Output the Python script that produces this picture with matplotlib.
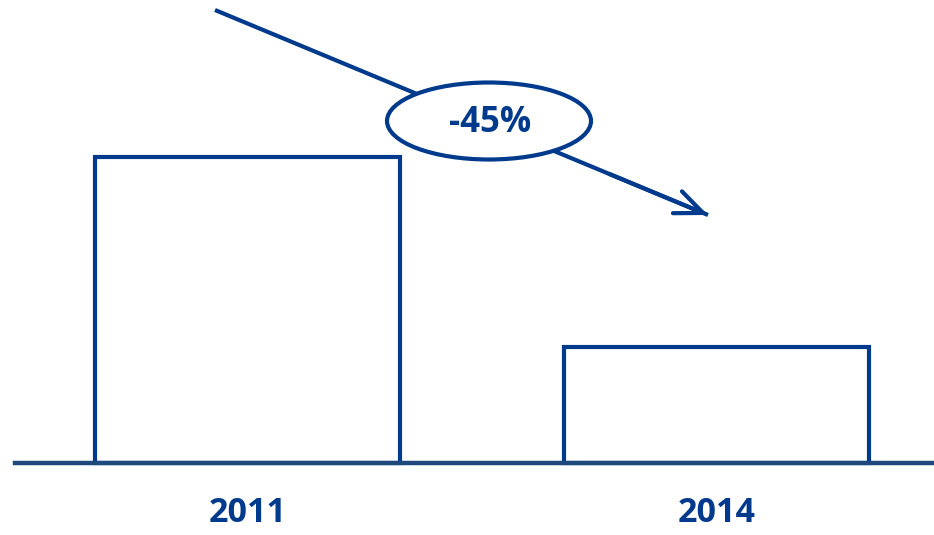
import matplotlib
matplotlib.use("Agg")
import matplotlib.pyplot as plt
from matplotlib.patches import Ellipse
from matplotlib.lines import Line2D

categories = ["2011", "2014"]
values = [100, 38]
change_label = "-45%"

BAR_C = "#003A8C"
BASE_C = "#1F497D"
FONT = ["Open Sans", "DejaVu Sans"]

W, H = 934, 535
fig = plt.figure(figsize=(W / 100, H / 100), dpi=100)
ax = fig.add_axes([0, 0, 1, 1])
ax.set_xlim(-0.5277, 1.4638)
ax.set_ylim(-23.53, 151.3)
ax.axis("off")

xs = list(range(len(categories)))
ax.bar(xs, values, width=0.65, facecolor="white", edgecolor=BAR_C,
       linewidth=3.0, joinstyle="miter", zorder=2)
ax.axhline(0, xmin=15 / W, xmax=1, color=BASE_C, linewidth=3.2, zorder=3)

for x, c in zip(xs, categories):
    ax.text(x, -16.5, c, ha="center", va="center", fontsize=24.5,
            fontweight="bold", color=BAR_C, family=FONT)

# trend arrow (figure pixel coordinates, y from bottom)
x0, y0 = 215, H - 10
x1, y1 = 708, H - 215
line = Line2D([x0 / W, x1 / W], [y0 / H, y1 / H],
              transform=fig.transFigure, color=BAR_C, lw=3.0,
              solid_capstyle="butt", zorder=4)
fig.add_artist(line)
t = 0.8
xm, ym = x0 + t * (x1 - x0), y0 + t * (y1 - y0)
ax.annotate("", xy=(x1, y1), xycoords="figure pixels",
            xytext=(xm, ym), textcoords="figure pixels",
            arrowprops=dict(arrowstyle="->,head_length=2.0,head_width=0.85",
                            color=BAR_C, lw=3.0, shrinkA=0, shrinkB=0,
                            joinstyle="round", capstyle="round"),
            zorder=4)

ell = Ellipse((489 / W, (H - 121) / H), 204 / W, 77 / H,
              transform=fig.transFigure, facecolor="white",
              edgecolor=BAR_C, linewidth=3.0, zorder=5)
fig.add_artist(ell)
fig.text(490 / W, (H - 123) / H, change_label, ha="center", va="center",
         fontsize=25, fontweight="bold", color=BAR_C,
         family=FONT, zorder=6)

fig.savefig("out.png", dpi=100, facecolor="white")
